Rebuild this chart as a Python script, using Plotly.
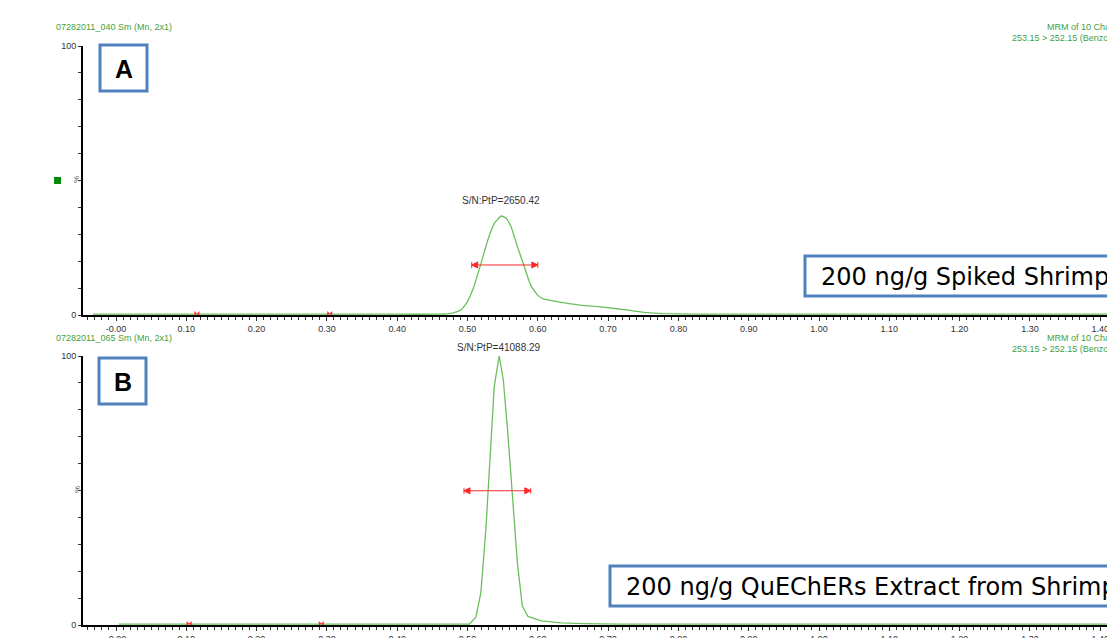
import plotly.graph_objects as go

# ---------------- data ----------------
# Panel A: 200 ng/g Spiked Shrimp
time_a = [-0.033, 0.10, 0.20, 0.30, 0.40, 0.460, 0.477, 0.491, 0.500, 0.509, 0.519, 0.529,
          0.538, 0.548, 0.555, 0.562, 0.571, 0.580, 0.590, 0.600, 0.609, 0.627, 0.660,
          0.693, 0.726, 0.755, 0.778, 0.821, 0.900, 1.000, 1.100, 1.250, 1.450]
inten_a = [0.3, 0.3, 0.3, 0.3, 0.3, 0.3, 0.6, 1.9, 5.0, 10.5, 19.0, 28.0,
           34.0, 36.8, 36.0, 32.8, 25.4, 18.6, 11.0, 7.3, 5.9, 5.0, 3.7,
           2.9, 1.9, 0.9, 0.5, 0.35, 0.3, 0.3, 0.3, 0.3, 0.3]

# Panel B: 200 ng/g QuEChERs Extract from Shrimp
time_b = [0.004, 0.10, 0.20, 0.30, 0.40, 0.480, 0.503, 0.512, 0.519, 0.526, 0.532, 0.538,
          0.545, 0.551, 0.557, 0.564, 0.571, 0.578, 0.586, 0.605, 0.633, 0.666, 0.714,
          0.800, 1.000, 1.200, 1.450]
inten_b = [0.3, 0.3, 0.3, 0.3, 0.3, 0.3, 0.3, 3.0, 12.0, 35.0, 60.0, 88.5,
           100.0, 91.0, 72.5, 48.0, 23.0, 7.0, 3.2, 1.5, 0.8, 0.5, 0.3,
           0.3, 0.3, 0.3, 0.3]

# peak width markers (start, end, level)
width_a = [0.506, 0.600]
width_a_level = 18.6
width_b = [0.495, 0.590]
width_b_level = 49.9

# noise region markers
noise_a = [0.115, 0.304]
noise_b = [0.104, 0.292]

sn_a = "S/N:PtP=2650.42"
sn_b = "S/N:PtP=41088.29"
apex_a = [0.548, 36.8]
apex_b = [0.545, 100.0]

header_a = "07282011_040 Sm (Mn, 2x1)"
header_b = "07282011_065 Sm (Mn, 2x1)"
mrm_line1 = "MRM of 10 Cha"
mrm_line2 = "253.15 > 252.15 (Benzo"
label_a = "200 ng/g Spiked Shrimp"
label_b = "200 ng/g QuEChERs Extract from Shrimp"

x_tickvals = [0.0, 0.1, 0.2, 0.3, 0.4, 0.5, 0.6, 0.7, 0.8, 0.9, 1.0, 1.1, 1.2, 1.3, 1.4]
x_ticktext = ["-0.00", "0.10", "0.20", "0.30", "0.40", "0.50", "0.60", "0.70", "0.80",
              "0.90", "1.00", "1.10", "1.20", "1.30", "1.40"]
y_tickvals = [0, 10, 20, 30, 40, 50, 60, 70, 80, 90, 100]
y_ticktext = ["0", "", "", "", "", "", "", "", "", "", "100"]

# ---------------- layout helpers ----------------
W, H = 1107, 638
def fx(p):
    return p / W
def fy(p):
    return 1 - p / H

GREEN_LINE = "#6cbf5e"
GREEN_TXT = "#3f9f3f"
BLUE = "#4f81bd"
RED = "#ff2a2a"

fig = go.Figure()

fig.add_trace(go.Scatter(x=time_a, y=inten_a, mode="lines", xaxis="x", yaxis="y",
                         line=dict(color=GREEN_LINE, width=1.3, shape="spline", smoothing=0.4),
                         showlegend=False, hoverinfo="skip"))
fig.add_trace(go.Scatter(x=time_b, y=inten_b, mode="lines", xaxis="x2", yaxis="y2",
                         line=dict(color=GREEN_LINE, width=1.3),
                         showlegend=False, hoverinfo="skip"))

for w, lvl, xa, ya in [(width_a, width_a_level, "x", "y"), (width_b, width_b_level, "x2", "y2")]:
    fig.add_trace(go.Scatter(x=w, y=[lvl, lvl], mode="lines+markers", xaxis=xa, yaxis=ya,
                             line=dict(color=RED, width=1),
                             marker=dict(symbol=["arrow-bar-left", "arrow-bar-right"], size=6,
                                         color=RED, line=dict(color=RED, width=1)),
                             showlegend=False, hoverinfo="skip"))

for n, xa, ya in [(noise_a, "x", "y"), (noise_b, "x2", "y2")]:
    fig.add_trace(go.Scatter(x=n, y=[0.6, 0.6], mode="markers", xaxis=xa, yaxis=ya,
                             marker=dict(symbol="bowtie", size=5, color=RED),
                             cliponaxis=False, showlegend=False, hoverinfo="skip"))

xrange = [(83 - 116) / 703, (W - 116) / 703]
xcommon = dict(range=xrange, domain=[fx(83), 1], showgrid=False, zeroline=False,
               showline=True, linecolor="black", linewidth=2, automargin=False,
               ticks="outside", ticklen=4, tickwidth=1, tickcolor="#333",
               tickmode="array", tickvals=x_tickvals, ticktext=x_ticktext,
               ticklabeloverflow="allow",
               tickfont=dict(family="Liberation Sans", size=9, color="#333"),
               minor=dict(ticks="outside", ticklen=3, tickcolor="#333", dtick=0.01, tick0=0),
               fixedrange=True)
ycommon = dict(range=[0, 100], showgrid=False, zeroline=False,
               showline=True, linecolor="black", linewidth=2, automargin=False,
               ticks="outside", ticklen=3, tickwidth=1, tickcolor="#333",
               tickmode="array", tickvals=y_tickvals, ticktext=y_ticktext,
               ticklabeloverflow="allow",
               tickfont=dict(family="Liberation Sans", size=9, color="#333"),
               fixedrange=True)

fig.update_layout(
    width=W, height=H, margin=dict(l=0, r=0, t=0, b=0, pad=0, autoexpand=False),
    paper_bgcolor="white", plot_bgcolor="white", showlegend=False,
    xaxis=dict(xcommon, anchor="y"),
    yaxis=dict(ycommon, domain=[fy(315), fy(46)], anchor="x"),
    xaxis2=dict(xcommon, anchor="y2"),
    yaxis2=dict(ycommon, domain=[fy(625), fy(356)], anchor="x2"),
)

ann = []
small = dict(family="Liberation Sans", size=9, color=GREEN_TXT)
for hdr, ytop in [(header_a, 27), (header_b, 338)]:
    ann.append(dict(text=hdr, xref="paper", yref="paper", x=fx(54), y=fy(ytop),
                    xanchor="left", yanchor="middle", showarrow=False, font=small))
    ann.append(dict(text=mrm_line1, xref="paper", yref="paper", x=fx(1045), y=fy(ytop),
                    xanchor="left", yanchor="middle", showarrow=False, font=small))
    ann.append(dict(text=mrm_line2, xref="paper", yref="paper", x=fx(1010), y=fy(ytop + 11),
                    xanchor="left", yanchor="middle", showarrow=False, font=small))

for ypix in [180, 490]:
    ann.append(dict(text="%", xref="paper", yref="paper", x=fx(77), y=fy(ypix),
                    xanchor="center", yanchor="middle", showarrow=False, textangle=-90,
                    font=dict(family="Liberation Sans", size=8, color="#555")))

ann.append(dict(text=sn_a, x=apex_a[0], y=apex_a[1], xref="x", yref="y", yshift=8,
                xanchor="center", yanchor="bottom", showarrow=False,
                font=dict(family="Liberation Sans", size=10, color="#333")))
ann.append(dict(text=sn_b, x=apex_b[0], y=apex_b[1], xref="x2", yref="y2", yshift=1,
                xanchor="center", yanchor="bottom", showarrow=False,
                font=dict(family="Liberation Sans", size=10, color="#333")))

# letter boxes
for letter, x0, y0 in [("A", 100, 45), ("B", 99, 358)]:
    fig.add_shape(type="rect", xref="paper", yref="paper",
                  x0=fx(x0), x1=fx(x0 + 47), y0=fy(y0 + 46), y1=fy(y0),
                  line=dict(color=BLUE, width=3), fillcolor="white", layer="above")
    ann.append(dict(text="<b>%s</b>" % letter, xref="paper", yref="paper",
                    x=fx(x0 + 23.5), y=fy(y0 + 24), xanchor="center", yanchor="middle",
                    showarrow=False, font=dict(family="Liberation Sans", size=25, color="black")))

# sample label boxes (cut at right edge)
for txt, x0, y0 in [(label_a, 805, 256), (label_b, 610, 566)]:
    fig.add_shape(type="rect", xref="paper", yref="paper",
                  x0=fx(x0), x1=fx(W + 30), y0=fy(y0 + 40), y1=fy(y0),
                  line=dict(color=BLUE, width=3), fillcolor="white", layer="above")
    ann.append(dict(text=txt, xref="paper", yref="paper", x=fx(x0 + 14), y=fy(y0 + 21),
                    xanchor="left", yanchor="middle", showarrow=False,
                    font=dict(family="DejaVu Sans", size=24, color="black")))

# small green square marker on left of panel A
fig.add_shape(type="rect", xref="paper", yref="paper",
              x0=fx(54), x1=fx(61), y0=fy(184), y1=fy(177),
              line=dict(color="#0a8a0a", width=0), fillcolor="#0a8a0a")

fig.update_layout(annotations=ann)
fig.write_html("out.html")
